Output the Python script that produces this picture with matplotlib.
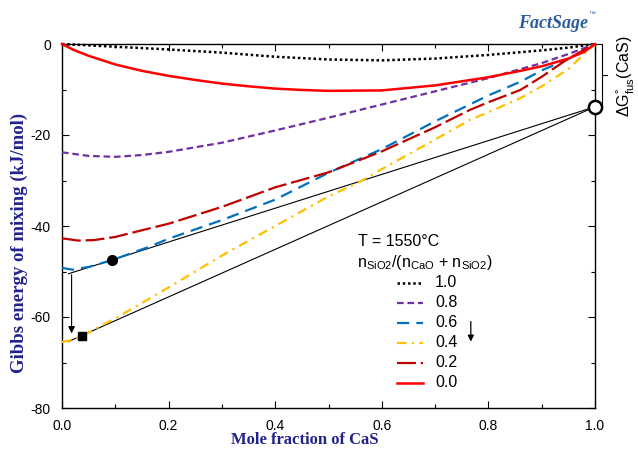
import matplotlib
matplotlib.use("Agg")
import matplotlib.pyplot as plt
from matplotlib.ticker import MultipleLocator

plt.rcParams['font.family'] = ['Liberation Sans', 'DejaVu Sans']
plt.rcParams['mathtext.default'] = 'regular'
plt.rcParams['axes.unicode_minus'] = False

# Gibbs energy of mixing (kJ/mol) vs mole fraction of CaS, T = 1550 C
x_10 = [0.0, 0.05, 0.1, 0.2, 0.3, 0.4, 0.5, 0.6, 0.7, 0.8, 0.9, 0.95, 1.0]
g_10 = [0.0, -0.3, -0.6, -1.2, -1.9, -2.8, -3.4, -3.6, -3.2, -2.4, -1.4, -0.8, 0.0]

x_08 = [0.0, 0.05, 0.1, 0.15, 0.2, 0.3, 0.4, 0.5, 0.6, 0.7, 0.8, 0.9, 0.95, 1.0]
g_08 = [-23.8, -24.6, -24.8, -24.4, -23.7, -21.7, -19.0, -16.2, -13.3, -10.4, -7.5, -4.2, -2.2, 0.0]

x_06 = [0.0, 0.02, 0.05, 0.094, 0.165, 0.2, 0.3, 0.4, 0.5, 0.6, 0.7, 0.8, 0.86, 0.9, 0.96, 1.0]
g_06 = [-49.2, -49.6, -49.0, -47.5, -44.5, -42.8, -38.7, -34.2, -28.3, -23.1, -17.0, -11.3, -8.3, -5.8, -2.8, 0.0]

x_04 = [0.0, 0.02, 0.038, 0.1, 0.165, 0.2, 0.3, 0.4, 0.5, 0.56, 0.6, 0.7, 0.765, 0.8, 0.86, 0.9, 0.95, 1.0]
g_04 = [-65.5, -65.0, -64.1, -60.3, -55.9, -53.5, -46.5, -40.0, -33.5, -30.2, -27.5, -21.0, -16.7, -15.0, -11.9, -9.3, -5.5, 0.0]

x_02 = [0.0, 0.03, 0.06, 0.1, 0.165, 0.2, 0.3, 0.4, 0.5, 0.6, 0.7, 0.765, 0.8, 0.86, 0.9, 0.95, 1.0]
g_02 = [-42.7, -43.2, -43.1, -42.4, -40.5, -39.5, -35.8, -31.5, -28.2, -23.6, -18.3, -14.5, -12.8, -10.1, -7.2, -3.2, 0.0]

x_00 = [0.0, 0.01, 0.02, 0.05, 0.1, 0.15, 0.2, 0.25, 0.3, 0.35, 0.4, 0.45, 0.5, 0.6,
        0.7, 0.8, 0.86, 0.9, 0.95, 0.98, 1.0]
g_00 = [0.0, -0.6, -1.2, -2.6, -4.5, -5.9, -7.0, -7.9, -8.7, -9.3, -9.8, -10.1, -10.3, -10.2,
        -9.1, -7.3, -5.9, -4.9, -3.2, -1.7, 0.0]

series_labels = ['1.0', '0.8', '0.6', '0.4', '0.2', '0.0']

# common tangents and the CaS(s) reference point
tan_upper_x = [0.012, 1.0]
tan_upper_g = [-50.5, -13.8]
tan_lower_x = [0.012, 1.0]
tan_lower_g = [-65.4, -13.8]
tangent_point_x, tangent_point_g = 0.094, -47.4
square_point_x, square_point_g = 0.038, -64.1
cas_solid_x, cas_solid_g = 1.0, -13.8
drop_x = 0.018
drop_g = [-50.7, -63.6]

W, H = 638, 451
fig = plt.figure(figsize=(W / 100, H / 100), dpi=100)
ax = fig.add_axes([62 / W, 1 - 408 / H, (595 - 62) / W, (408 - 44) / H])

styles = [
    dict(color='black', lw=1.8, ls=(0, (1, 1.1))),
    dict(color='#7030a0', lw=1.6, ls=(0, (3, 1.7))),
    dict(color='#0070c0', lw=1.6, ls=(0, (5.5, 3.2))),
    dict(color='#ffc000', lw=1.6, ls=(0, (4.3, 2.4, 1, 2.4))),
    dict(color='#c00000', lw=1.6, ls=(0, (8.5, 2.2))),
    dict(color='#ff0000', lw=1.8, ls='-'),
]
data = [(x_10, g_10), (x_08, g_08), (x_06, g_06), (x_04, g_04), (x_02, g_02), (x_00, g_00)]

# tangents under the curves
ax.plot(tan_upper_x, tan_upper_g, color='black', lw=0.8, zorder=2)
ax.plot(tan_lower_x, tan_lower_g, color='black', lw=0.8, zorder=2)

for (xs, gs), st in zip(data, styles):
    ax.plot(xs, gs, zorder=3, clip_on=False, **st)

ax.annotate('', xy=(drop_x, drop_g[1]), xytext=(drop_x, drop_g[0]),
            arrowprops=dict(arrowstyle='-|>', color='black', lw=0.8,
                            mutation_scale=10, shrinkA=0, shrinkB=0), zorder=4)

ax.plot([tangent_point_x], [tangent_point_g], 'o', color='black', ms=7, zorder=5)
ax.plot([square_point_x], [square_point_g], 's', color='black', ms=5.5, zorder=5)
ax.plot([cas_solid_x], [cas_solid_g], 'o', mfc='white', mec='black', mew=1.8, ms=9.5,
        zorder=6, clip_on=False)

# axes styling
ax.set_xlim(0, 1)
ax.set_ylim(-80, 0)
ax.set_xticks([0, 0.2, 0.4, 0.6, 0.8, 1.0])
ax.set_xticklabels(['0.0', '0.2', '0.4', '0.6', '0.8', '1.0'])
ax.set_yticks([0, -20, -40, -60, -80])
ax.set_yticklabels(['0', '-20', '-40', '-60', '-80'])
ax.xaxis.set_minor_locator(MultipleLocator(0.1))
ax.yaxis.set_minor_locator(MultipleLocator(10))
ax.tick_params(which='both', direction='in', top=True, right=True, labelsize=10, width=0.8)
ax.tick_params(which='major', length=5)
ax.tick_params(axis='x', which='major', pad=8)
ax.tick_params(axis='y', which='major', pad=8)
ax.tick_params(which='minor', length=3)
for sp in ax.spines.values():
    sp.set_linewidth(1.0)

navy = '#22228c'
fig.text(19 / W, 1 - 243 / H, 'Gibbs energy of mixing (kJ/mol)', rotation=90,
         ha='center', va='center', family='Liberation Serif', weight='bold',
         fontsize=13.5, color=navy)
fig.text(305 / W, 1 - 440 / H, 'Mole fraction of CaS', ha='center', va='center',
         family='Liberation Serif', weight='bold', fontsize=12, color=navy)

# legend block drawn in data coordinates
fs_leg = 11.5
ax.text(0.555, -43.3, 'T = 1550\u00b0C', ha='left', va='center', fontsize=fs_leg)
ax.text(0.553, -48.0, 'n$_{SiO2}$/(n$_{CaO}$ + n$_{SiO2}$)', ha='left', va='center',
        fontsize=fs_leg)
row_g = [-52.5, -56.9, -61.3, -65.7, -70.1, -74.5]
for lab, st, gy in zip(series_labels, styles, row_g):
    ax.plot([0.6285, 0.677], [gy, gy], **st)
    ax.text(0.70, gy, lab, ha='left', va='center', fontsize=fs_leg)
ax.annotate('', xy=(0.767, -65.4), xytext=(0.767, -61.0),
            arrowprops=dict(arrowstyle='-|>', color='black', lw=0.9,
                            mutation_scale=9, shrinkA=0, shrinkB=0))

# bracket for the fusion energy of CaS
ax.plot([1.0, 1.013, 1.013, 1.0], [0.0, 0.0, cas_solid_g + 0.4, cas_solid_g + 0.4],
        color='black', lw=0.8, clip_on=False)
ax.plot([1.013, 1.022], [cas_solid_g / 2, cas_solid_g / 2], color='black', lw=0.8,
        clip_on=False)
fig.text(625 / W, 1 - 76 / H, '\u0394G$^{\u00b0}_{fus}$(CaS)', rotation=90,
         ha='center', va='center', fontsize=11.5)

# logo
fig.text(553 / W, 1 - 23 / H, 'FactSage', ha='center', va='center', fontsize=13,
         weight='bold', style='italic', color='#2b5c9c', family='Liberation Serif')
fig.text(592 / W, 1 - 15 / H, '\u2122', ha='center', va='center', fontsize=5,
         color='#2b5c9c')

fig.savefig('out.png', dpi=100)
